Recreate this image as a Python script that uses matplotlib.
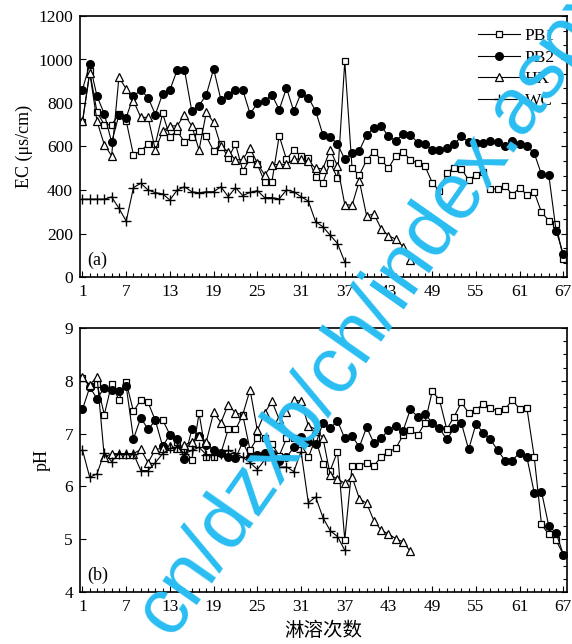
import matplotlib
matplotlib.use("Agg")
import matplotlib.pyplot as plt
from matplotlib.ticker import MultipleLocator

plt.rcParams['font.family'] = ['Liberation Serif', 'DejaVu Serif']

# ---- data (leaching number starts at 1) ----
ec_pb1 = [713, 945, 757, 700, 700, 748, 718, 560, 580, 611, 611, 752, 645, 672, 619, 643, 669,
          646, 580, 612, 546, 612, 488, 541, 518, 438, 438, 649, 541, 584, 557, 546, 460, 434,
          526, 454, 992, 500, 469, 538, 577, 538, 500, 558, 577, 538, 523, 511, 434, 395, 479,
          503, 498, 446, 469, 483, 405, 405, 419, 378, 410, 378, 390, 298, 259, 242, 84]
ec_pb2 = [862, 978, 831, 750, 620, 744, 733, 831, 860, 825, 747, 842, 860, 952, 952, 763, 788,
          838, 957, 815, 838, 860, 860, 751, 798, 808, 838, 769, 869, 762, 846, 825, 763, 654,
          643, 612, 541, 569, 581, 654, 684, 695, 646, 626, 657, 654, 618, 612, 584, 583, 592,
          610, 646, 620, 615, 616, 625, 620, 600, 627, 611, 602, 569, 472, 469, 213, 105]
ec_hx = [715, 938, 715, 608, 557, 918, 865, 810, 734, 734, 584, 669, 695, 695, 746, 695, 584,
         758, 711, 600, 577, 538, 541, 592, 523, 469, 515, 518, 518, 541, 543, 532, 500, 498,
         585, 510, 333, 330, 442, 281, 290, 222, 190, 174, 140, 78]
ec_wc = [358, 358, 358, 358, 368, 316, 257, 411, 431, 400, 388, 382, 354, 400, 415, 392, 387,
         392, 392, 415, 369, 411, 374, 389, 397, 365, 365, 359, 400, 392, 369, 349, 254, 231,
         192, 154, 69]

ph_pb1 = [8.05, 7.90, 7.94, 7.36, 7.94, 7.64, 7.97, 7.42, 7.64, 7.59, 7.25, 7.26, 6.98, 6.84,
          6.70, 6.50, 7.39, 6.56, 6.55, 6.63, 7.08, 7.08, 7.35, 6.69, 6.92, 6.91, 6.81, 6.58,
          6.91, 6.91, 6.80, 6.55, 6.91, 6.42, 6.30, 6.66, 4.99, 6.39, 6.39, 6.45, 6.39, 6.56,
          6.66, 6.72, 6.97, 7.07, 6.97, 7.20, 7.80, 7.64, 7.08, 7.32, 7.59, 7.39, 7.45, 7.56,
          7.48, 7.43, 7.46, 7.64, 7.46, 7.48, 6.56, 5.28, 5.09, 4.98, 4.71]
ph_pb2 = [7.46, 7.88, 7.66, 7.87, 7.82, 7.80, 7.90, 6.90, 7.30, 7.08, 7.25, 6.76, 6.98, 6.89,
          6.51, 7.08, 6.96, 6.78, 6.69, 6.64, 6.56, 6.53, 6.84, 6.55, 6.60, 6.64, 6.62, 6.49,
          6.55, 6.74, 6.93, 6.84, 6.80, 7.20, 7.10, 7.24, 6.91, 6.95, 6.75, 7.12, 6.82, 6.91,
          7.07, 7.15, 7.05, 7.46, 7.32, 7.37, 7.21, 7.10, 6.89, 7.10, 7.20, 6.70, 7.18, 7.02,
          6.89, 6.68, 6.49, 6.49, 6.64, 6.55, 5.88, 5.90, 5.25, 5.12, 4.71]
ph_hx = [8.07, 7.92, 8.08, 6.55, 6.62, 6.62, 6.62, 6.62, 6.70, 6.45, 6.70, 6.72, 6.76, 6.72,
         6.78, 6.85, 6.95, 6.85, 7.40, 7.21, 7.55, 7.39, 7.36, 7.83, 7.06, 7.39, 7.61, 7.27,
         7.40, 7.64, 7.61, 7.15, 7.08, 6.92, 6.22, 6.14, 6.06, 6.18, 5.77, 5.68, 5.35, 5.17,
         5.10, 5.01, 4.95, 4.77]
ph_wc = [6.69, 6.17, 6.24, 6.64, 6.47, 6.62, 6.62, 6.62, 6.30, 6.30, 6.45, 6.62, 6.72, 6.75,
         6.62, 6.68, 6.74, 6.60, 6.60, 6.62, 6.68, 6.63, 6.55, 6.45, 6.32, 6.50, 6.60, 6.36,
         6.37, 6.28, 6.66, 5.69, 5.80, 5.41, 5.16, 5.05, 4.79]

labels = ['PB1', 'PB2', 'HX', 'WC']
x_ticks = list(range(1, 68, 6))

styles = {
    'PB1': dict(marker='s', mfc='white', mec='black', ms=5, mew=0.9),
    'PB2': dict(marker='o', mfc='black', mec='black', ms=5.5),
    'HX': dict(marker='^', mfc='white', mec='black', ms=5.5, mew=0.9),
    'WC': dict(marker='+', mec='black', ms=7, mew=1.0),
}


def draw_panel(ax, series, ylim, ystep, yminor, tag):
    for name, vals in zip(labels, series):
        ax.plot(range(1, len(vals) + 1), vals, color='black', lw=0.8,
                label=name, **styles[name])
    ax.set_xlim(0.66, 67.5)
    ax.set_xticks(x_ticks)
    ax.xaxis.set_minor_locator(MultipleLocator(1))
    ax.set_ylim(*ylim)
    ax.yaxis.set_major_locator(MultipleLocator(ystep))
    ax.yaxis.set_minor_locator(MultipleLocator(yminor))
    ax.tick_params(which='both', direction='in', top=False, right=True,
                   labelsize=12.5, width=0.8)
    ax.tick_params(which='major', length=4, pad=5)
    ax.tick_params(which='minor', length=3)
    ax.tick_params(axis='y', which='minor', left=False, right=True)
    for sp in ax.spines.values():
        sp.set_linewidth(1.2)
    ax.text(0.015, 0.03, tag, transform=ax.transAxes, fontsize=13,
            ha='left', va='bottom')


fig = plt.figure(figsize=(5.72, 6.44), dpi=100)
ax_a = fig.add_axes([80 / 572, 1 - 277 / 644, 487 / 572, 261 / 644])
ax_b = fig.add_axes([80 / 572, 1 - 592 / 644, 487 / 572, 264 / 644])

draw_panel(ax_a, [ec_pb1, ec_pb2, ec_hx, ec_wc], (0, 1200), 200, 200 / 3, '(a)')
draw_panel(ax_b, [ph_pb1, ph_pb2, ph_hx, ph_wc], (4, 9), 1, 0.25, '(b)')

ax_a.set_ylabel('EC (μs/cm)', fontsize=13, labelpad=4)
ax_b.set_ylabel('pH', fontsize=13, labelpad=10)
ax_b.set_xlabel('淋溶次数', fontsize=14, family=['Noto Sans CJK SC', 'DejaVu Sans'],
                labelpad=4)

ax_a.legend(loc='upper left', bbox_to_anchor=(0.817, 0.955), frameon=False,
            fontsize=12.5, handlelength=2.4, handletextpad=0.3, labelspacing=0.32,
            borderpad=0, borderaxespad=0)

# diagonal watermark over the whole figure
fig.text(0.298, 0.0085, 'cn/dzxb/ch/index.aspx', rotation=55, rotation_mode='anchor',
         ha='left', va='baseline', fontsize=57, color='#29BDF2',
         family=['Liberation Sans', 'DejaVu Sans'], zorder=10)

fig.savefig('out.png', dpi=100)
